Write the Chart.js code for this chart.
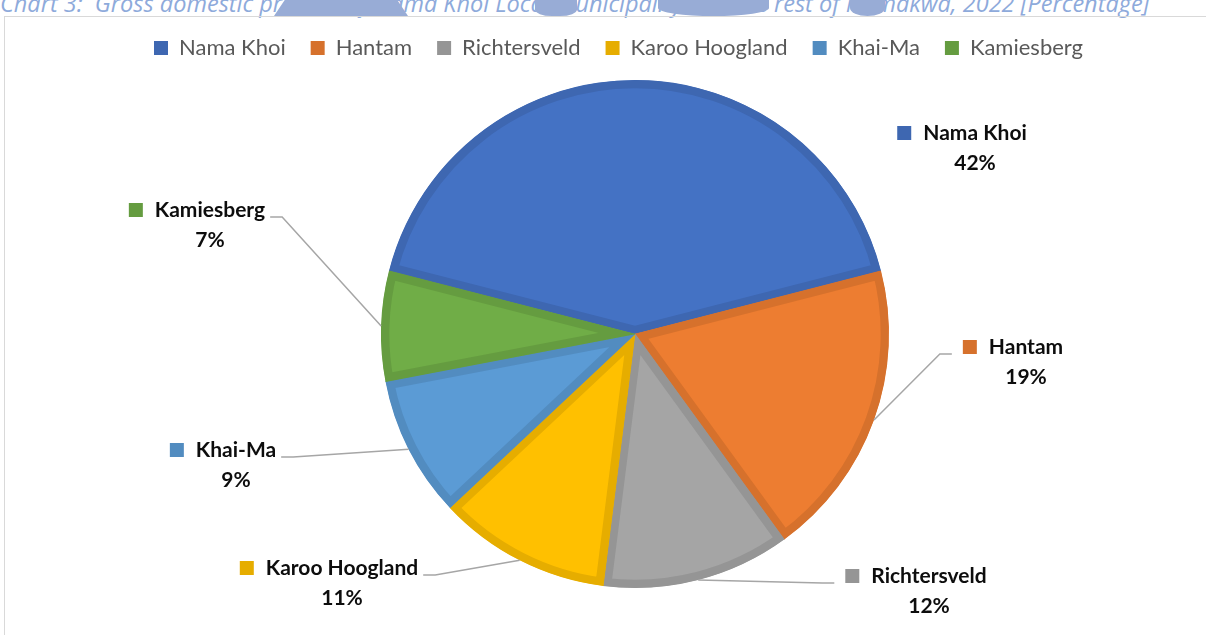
<!DOCTYPE html>
<html lang="en">
<head>
    <meta charset="UTF-8">
    <title>Gross domestic product - Namakwa, 2022</title>
    <script src="https://cdn.jsdelivr.net/npm/chart.js"></script>
    <style>
        body { margin: 0; background: #ffffff; width: 1206px; height: 635px; overflow: hidden; position: relative; }
        .title {
            position: absolute; left: 0; top: -8px; white-space: nowrap;
            font: italic 23.5px "Open Sans", sans-serif; line-height: 22px; color: #8eaadb;
        }
        .blob { position: absolute; top: 0; height: 16px; background: #98acd6; }
        .frame { position: absolute; left: 4px; top: 16px; width: 1240px; height: 700px; border: 1px solid #d9d9d9; }
        .chart-box { position: absolute; left: 0; top: 0; width: 1206px; height: 635px; }
    </style>
</head>
<body>
    <div class="title">Chart 3:&nbsp; Gross domestic product of Nama Khoi Local Municipality and the rest of Namakwa, 2022 [Percentage]</div>
    <!-- bits of a shape that sits over the title in the source -->
    <div class="blob" style="left:274px; width:134px; clip-path: polygon(8% 0, 92% 0, 100% 100%, 0 100%);"></div>
    <div class="blob" style="left:535px; width:42px; border-radius: 0 0 40% 40%;"></div>
    <div class="blob" style="left:658px; width:111px; border-radius: 0 0 50% 50%;"></div>
    <div class="blob" style="left:850px; width:35px; border-radius: 0 0 50% 50%;"></div>
    <div class="frame"></div>

    <div class="chart-box">
        <canvas id="gdpPie"></canvas>
    </div>

    <script>
        // Municipalities and their share of GDP (%)
        const regions = ['Nama Khoi', 'Hantam', 'Richtersveld', 'Karoo Hoogland', 'Khai-Ma', 'Kamiesberg'];
        const shares = [42, 19, 12, 11, 9, 7];

        // colours (Office palette) and a slightly darker edge per slice
        const fillColors = ['#4472c4', '#ed7d31', '#a5a5a5', '#ffc000', '#5b9bd5', '#70ad47'];
        const edgeColors = ['#3e67b1', '#d6712c', '#959595', '#e6ad00', '#528cc0', '#659c40'];

        // where each data label sits, relative to the pie centre (name line)
        const labelOffsets = [[340, -201], [391, 13], [294, 242], [-293, 234], [-399, 116], [-425, -124]];
        const showLeader = [false, true, true, true, true, true];

        const total = shares.reduce((a, b) => a + b, 0);

        // draws the outside labels with their leader lines
        const pieLabels = {
            id: 'pieLabels',
            afterDatasetsDraw(chart) {
                const ctx = chart.ctx;
                const meta = chart.getDatasetMeta(0);
                ctx.save();
                ctx.font = 'bold 21px Lato';
                ctx.textAlign = 'center';
                ctx.textBaseline = 'middle';
                meta.data.forEach((arc, i) => {
                    const p = arc.getProps(['x', 'y', 'startAngle', 'endAngle', 'outerRadius'], true);
                    const mid = (p.startAngle + p.endAngle) / 2;
                    const ex = p.x + Math.cos(mid) * p.outerRadius;
                    const ey = p.y + Math.sin(mid) * p.outerRadius;
                    const lx = p.x + labelOffsets[i][0];
                    const ly = p.y + labelOffsets[i][1];
                    const w = ctx.measureText(regions[i]).width;
                    const keyLeft = lx - w / 2 - 12 - 14;

                    if (showLeader[i]) {
                        const onRight = lx > p.x;
                        const sx = onRight ? keyLeft - 11 : lx + w / 2 + 5;
                        const sy = ly + 7;
                        const kx = onRight ? sx - 12 : sx + 12;
                        ctx.strokeStyle = '#a6a6a6';
                        ctx.lineWidth = 1.5;
                        ctx.beginPath();
                        ctx.moveTo(sx, sy);
                        ctx.lineTo(kx, sy);
                        ctx.lineTo(ex, ey);
                        ctx.stroke();
                    }

                    ctx.fillStyle = edgeColors[i];
                    ctx.fillRect(keyLeft, ly - 7, 14, 14);
                    ctx.fillStyle = '#0d0d0d';
                    ctx.fillText(regions[i], lx, ly);
                    ctx.fillText(Math.round(shares[i] / total * 100) + '%', lx, ly + 30);
                });
                ctx.restore();
            }
        };

        document.addEventListener('DOMContentLoaded', () => {
            const ctx = document.getElementById('gdpPie').getContext('2d');
            new Chart(ctx, {
                type: 'pie',
                data: {
                    labels: regions,
                    datasets: [{
                        data: shares,
                        backgroundColor: fillColors,
                        borderColor: edgeColors,
                        borderWidth: 8,
                        borderAlign: 'inner',
                        radius: 254
                    }]
                },
                options: {
                    responsive: true,
                    maintainAspectRatio: false,
                    animation: false,
                    rotation: -(shares[0] / total * 360) / 2,
                    layout: { padding: { top: 12, left: 129, right: 65, bottom: 36 } },
                    plugins: {
                        tooltip: { enabled: false },
                        legend: {
                            position: 'top',
                            align: 'start',
                            labels: {
                                color: '#595959',
                                font: { family: 'Lato', size: 22 },
                                boxWidth: 14,
                                boxHeight: 14,
                                padding: 25,
                                generateLabels: () => regions.map((r, i) => ({
                                    text: r,
                                    fillStyle: edgeColors[i],
                                    strokeStyle: edgeColors[i],
                                    lineWidth: 0,
                                    fontColor: '#595959',
                                    hidden: false,
                                    index: i
                                }))
                            }
                        }
                    }
                },
                plugins: [pieLabels]
            });
        });
    </script>
</body>
</html>
